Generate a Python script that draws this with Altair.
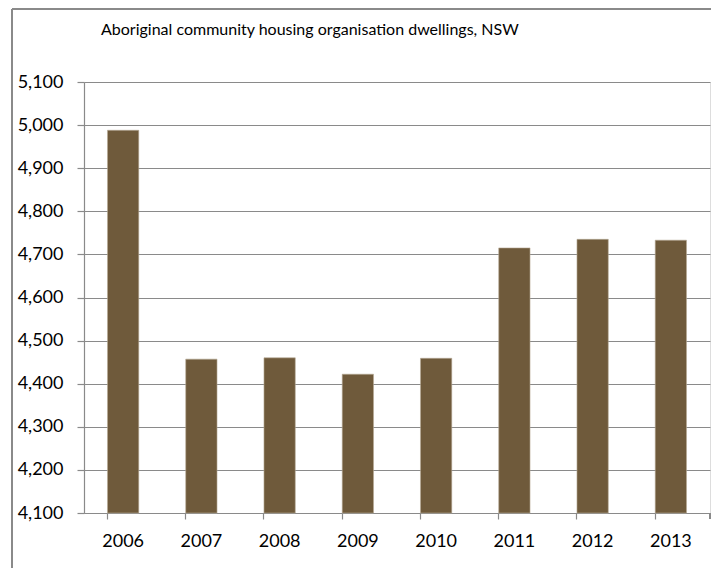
import altair as alt
import pandas as pd

years = ["2006", "2007", "2008", "2009", "2010", "2011", "2012", "2013"]
dwellings = [4988, 4457, 4460, 4422, 4459, 4715, 4735, 4733]
y_ticks = [4100, 4200, 4300, 4400, 4500, 4600, 4700, 4800, 4900, 5000, 5100]
title_text = "Aboriginal community housing organisation dwellings, NSW"

df = pd.DataFrame({"year": years, "dwellings": dwellings})

W, H = 626, 431
FONT = "Lato"
GRID = "#8a8a8a"

bars = alt.Chart(df).mark_bar(color="#6f5a3b", stroke="#b7ab97", strokeWidth=0.6).encode(
    x=alt.X(
        "year:N",
        title=None,
        sort=years,
        scale=alt.Scale(paddingInner=0.6, paddingOuter=0.3),
        axis=alt.Axis(
            labelAngle=0,
            labelFont=FONT,
            labelFontSize=18,
            labelColor="#000000",
            labelPadding=13,
            domainColor=GRID,
            domainWidth=1.2,
            tickColor=GRID,
            tickWidth=1.2,
            tickSize=6,
            bandPosition=0,
            grid=False,
        ),
    ),
    y=alt.Y(
        "dwellings:Q",
        title=None,
        scale=alt.Scale(domain=[4100, 5100], zero=False, nice=False),
        axis=alt.Axis(
            values=y_ticks,
            format=",.0f",
            labelFont=FONT,
            labelFontSize=18,
            labelColor="#000000",
            labelPadding=14,
            domainColor=GRID,
            domainWidth=1.2,
            tickColor=GRID,
            tickWidth=1.2,
            tickSize=7,
            grid=True,
            gridColor=GRID,
            gridWidth=1.2,
        ),
    ),
    y2=alt.datum(4100),
)

end_tick = alt.Chart(df).mark_rule(color=GRID, strokeWidth=1.2).encode(
    x=alt.value(W), y=alt.value(H), y2=alt.value(H + 6)
)

frame_top = alt.Chart(df).mark_rule(color="#8a8a8a", strokeWidth=1.2, clip=False).encode(
    x=alt.value(-72), x2=alt.value(W + 40), y=alt.value(-73)
)
frame_left = alt.Chart(df).mark_rule(color="#8a8a8a", strokeWidth=1.2, clip=False).encode(
    x=alt.value(-72), y=alt.value(-73), y2=alt.value(H + 60)
)

title = alt.Chart(pd.DataFrame({"t": [title_text]})).mark_text(
    font=FONT, fontSize=16, color="#000000", align="left", baseline="alphabetic"
).encode(text="t:N", x=alt.value(17), y=alt.value(-47))

chart = (
    alt.layer(frame_top, frame_left, bars, end_tick, title)
    .properties(
        width=W,
        height=H,
        autosize=alt.AutoSizeParams(type="none"),
        padding={"left": 76, "top": 74, "right": 1, "bottom": 55},
    )
    .configure_view(stroke="transparent", strokeWidth=0)
    .configure(background="white")
)

chart.save("out.html", embed_options={"renderer": "svg", "actions": False})
